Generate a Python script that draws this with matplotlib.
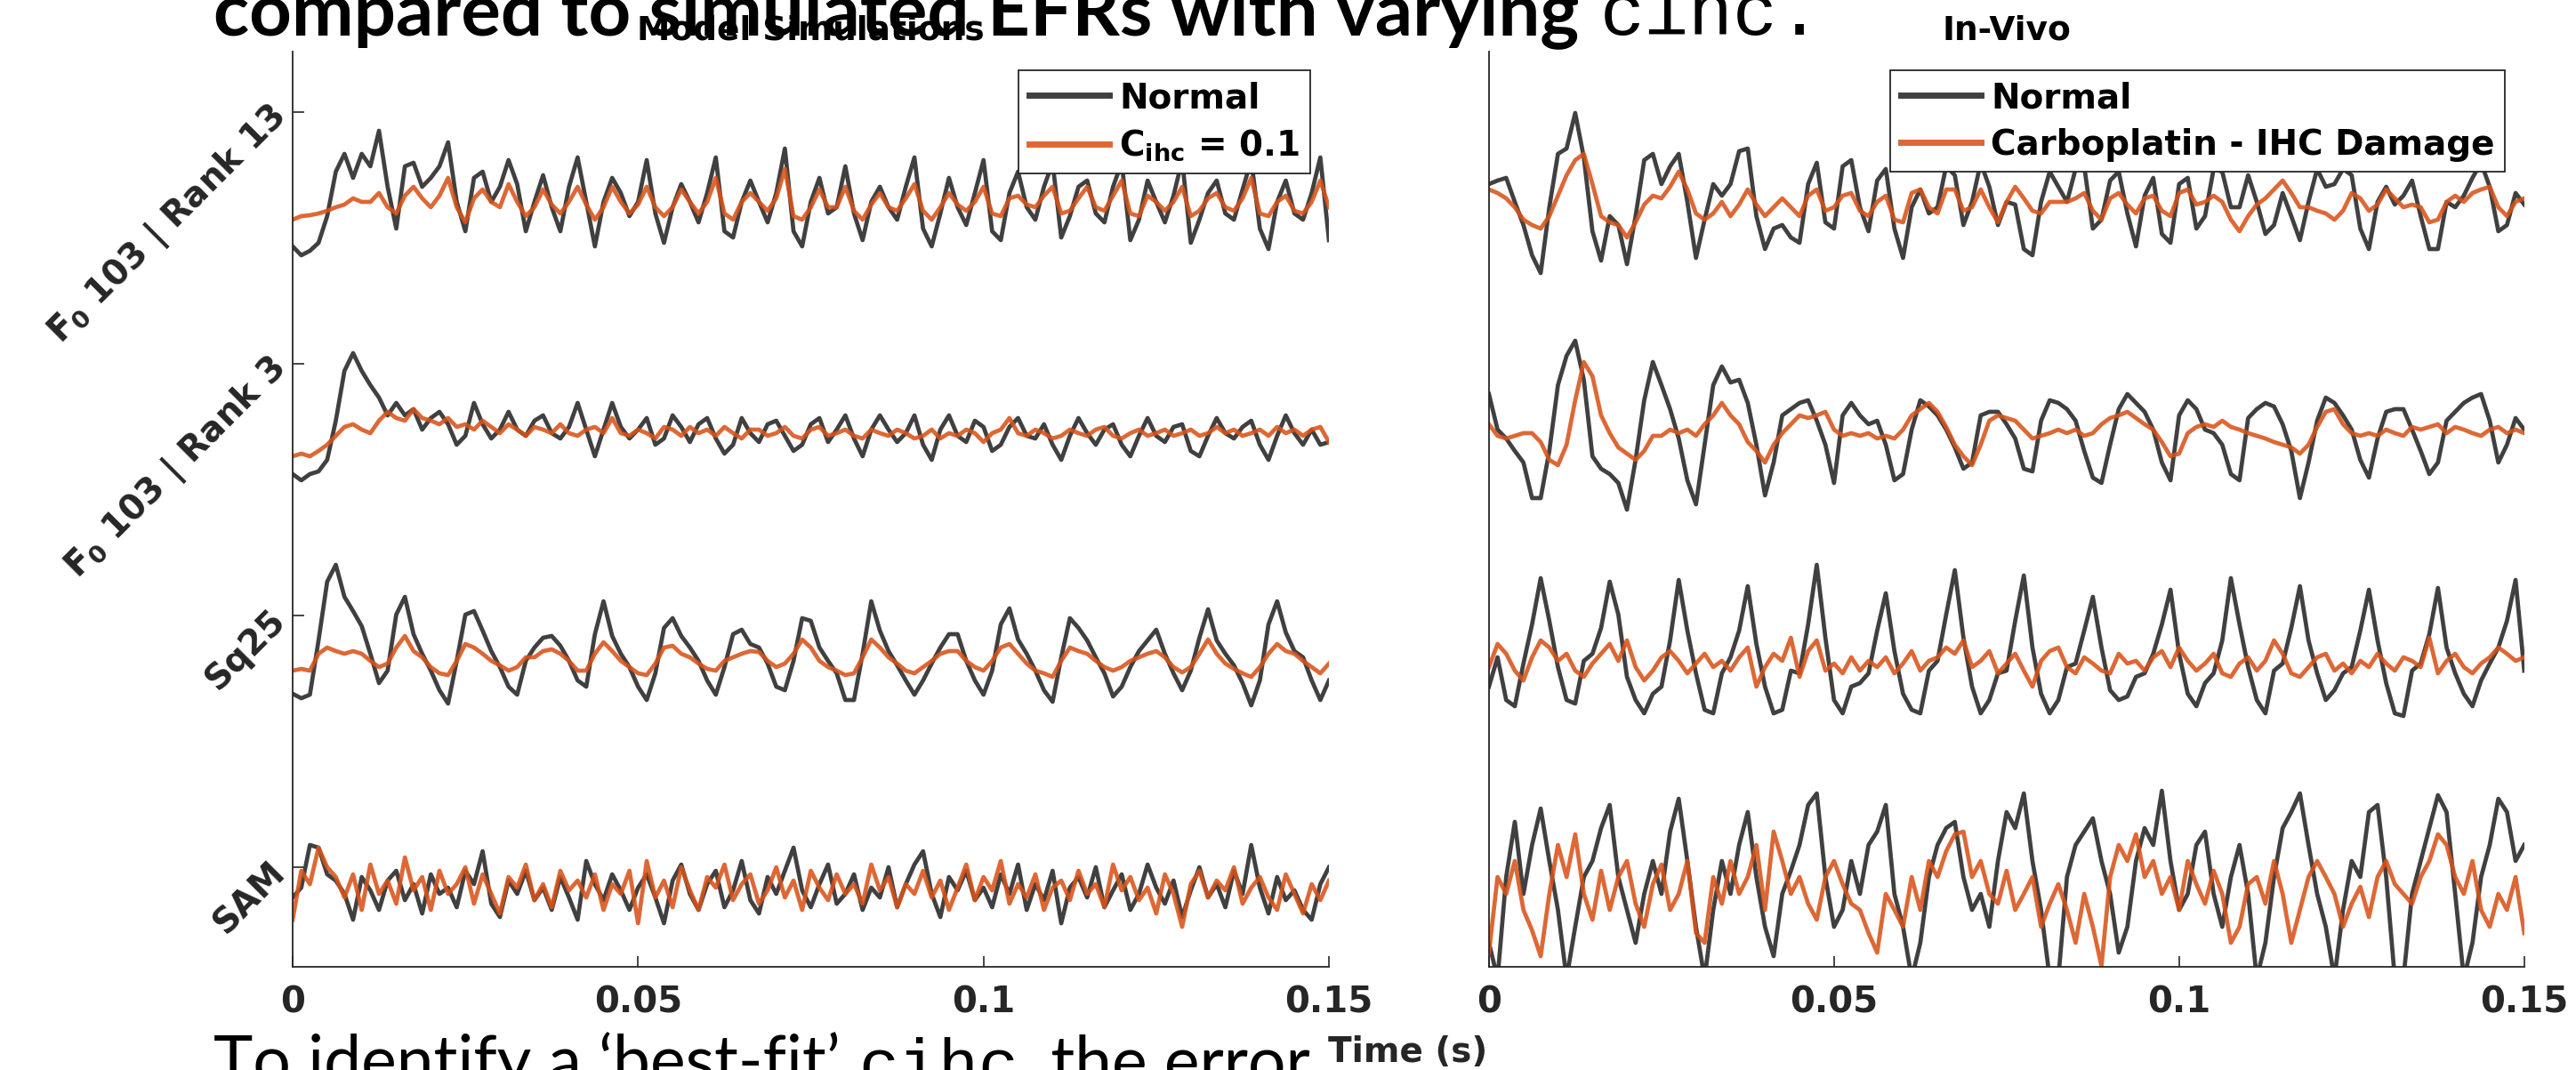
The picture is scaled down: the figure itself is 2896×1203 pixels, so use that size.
import numpy as np
import matplotlib
matplotlib.use("Agg")
import matplotlib.pyplot as plt

plt.rcParams["font.family"] = ["DejaVu Sans"]
plt.rcParams["mathtext.fontset"] = "dejavusans"
plt.rcParams["mathtext.default"] = "bf"

# ---- data: EFR waveforms (a.u., relative to each row's tick), 0..0.15 s ----
T_END = 0.15
row_labels = ["SAM", "Sq25", "F$_0$ 103 | Rank 3", "F$_0$ 103 | Rank 13"]
x_ticks = [0, 0.05, 0.1, 0.15]
x_tick_labels = ["0", "0.05", "0.1", "0.15"]

model_r13_normal = [
    -151, -161, -156, -147, -117, -67, -47, -74, -47, -61,
    -21, -84, -131, -61, -57, -84, -74, -61, -34, -101,
    -134, -74, -67, -101, -84, -54, -81, -134, -101, -71,
    -107, -134, -84, -51, -101, -151, -101, -74, -91, -117,
    -101, -54, -114, -147, -107, -81, -101, -124, -91, -51,
    -134, -141, -101, -77, -101, -124, -91, -41, -134, -151,
    -101, -74, -114, -107, -61, -114, -144, -101, -84, -107,
    -121, -84, -51, -131, -151, -114, -74, -107, -127, -91,
    -54, -134, -144, -91, -67, -107, -121, -84, -57, -141,
    -117, -84, -77, -114, -124, -84, -57, -144, -121, -77,
    -101, -124, -94, -54, -147, -121, -91, -77, -114, -121,
    -87, -54, -131, -154, -101, -77, -114, -121, -91, -51,
    -144]
model_r13_cihc = [
    -121, -117, -116, -114, -111, -107, -104, -97, -101, -101,
    -91, -107, -114, -94, -84, -97, -107, -94, -74, -107,
    -124, -97, -87, -101, -107, -81, -101, -117, -107, -87,
    -104, -114, -101, -84, -104, -121, -107, -84, -101, -114,
    -104, -84, -107, -117, -107, -87, -101, -114, -101, -74,
    -114, -121, -101, -91, -101, -111, -97, -64, -117, -121,
    -107, -87, -107, -107, -84, -111, -121, -104, -91, -107,
    -111, -97, -81, -111, -121, -107, -91, -104, -111, -101,
    -84, -114, -117, -97, -94, -104, -107, -94, -84, -114,
    -111, -97, -84, -107, -111, -94, -77, -114, -117, -94,
    -101, -111, -101, -84, -117, -111, -97, -91, -107, -111,
    -97, -74, -114, -117, -101, -94, -111, -114, -101, -77,
    -107]
model_r3_normal = [
    -124, -131, -124, -121, -108, -64, -8, 12, -8, -24,
    -38, -58, -44, -58, -51, -74, -61, -54, -68, -91,
    -81, -44, -68, -84, -74, -54, -74, -81, -64, -58,
    -78, -84, -71, -44, -74, -104, -74, -44, -71, -84,
    -74, -61, -91, -84, -58, -71, -88, -68, -61, -84,
    -101, -91, -61, -78, -88, -68, -64, -81, -98, -91,
    -68, -61, -88, -74, -58, -84, -104, -74, -58, -74,
    -88, -78, -58, -91, -108, -74, -58, -81, -88, -64,
    -71, -98, -91, -71, -61, -81, -84, -68, -91, -108,
    -81, -61, -78, -91, -74, -68, -91, -104, -81, -61,
    -81, -88, -71, -68, -98, -104, -81, -61, -78, -84,
    -71, -64, -91, -108, -81, -58, -78, -91, -74, -91,
    -88]
model_r3_cihc = [
    -104, -101, -104, -98, -91, -81, -71, -68, -74, -78,
    -64, -54, -61, -64, -51, -61, -64, -68, -61, -71,
    -68, -74, -64, -71, -78, -68, -74, -81, -71, -74,
    -78, -68, -78, -81, -74, -71, -78, -61, -78, -81,
    -74, -78, -84, -71, -74, -81, -71, -78, -74, -81,
    -71, -78, -84, -74, -74, -81, -78, -71, -81, -84,
    -74, -71, -81, -78, -74, -81, -84, -74, -78, -81,
    -74, -78, -84, -81, -74, -84, -78, -81, -74, -78,
    -88, -78, -74, -61, -78, -81, -74, -78, -84, -81,
    -74, -78, -81, -74, -71, -81, -84, -78, -74, -81,
    -78, -74, -81, -78, -74, -81, -78, -71, -78, -74,
    -81, -78, -74, -81, -71, -78, -74, -81, -74, -71,
    -88]
model_sq25_normal = [
    -88, -93, -89, -28, 38, 57, 21, 5, -12, -43,
    -76, -62, 1, 21, -21, -43, -62, -84, -99, -51,
    1, 5, -17, -40, -58, -80, -89, -51, -36, -25,
    -23, -34, -51, -73, -80, -21, 16, -23, -43, -58,
    -80, -95, -65, -14, -3, -23, -36, -51, -73, -89,
    -58, -21, -16, -32, -36, -54, -80, -84, -51, -3,
    -6, -36, -51, -65, -95, -95, -43, 16, -17, -40,
    -56, -73, -89, -73, -54, -36, -21, -21, -51, -73,
    -89, -62, -10, 8, -27, -43, -62, -84, -97, -47,
    -3, -14, -28, -47, -65, -91, -80, -58, -40, -28,
    -16, -43, -65, -84, -62, -25, 7, -28, -43, -56,
    -76, -101, -73, -10, 16, -19, -40, -47, -73, -95,
    -73]
model_sq25_cihc = [
    -62, -60, -62, -43, -36, -40, -43, -40, -43, -51,
    -58, -54, -36, -23, -40, -47, -58, -65, -67, -51,
    -32, -36, -43, -51, -56, -62, -58, -47, -47, -40,
    -38, -43, -51, -62, -62, -43, -30, -40, -51, -58,
    -65, -67, -54, -36, -34, -43, -47, -54, -60, -62,
    -51, -47, -43, -40, -41, -51, -58, -54, -43, -27,
    -36, -51, -58, -62, -67, -65, -47, -27, -36, -47,
    -54, -62, -65, -58, -51, -43, -40, -40, -51, -58,
    -62, -51, -36, -32, -43, -54, -62, -65, -69, -51,
    -36, -40, -43, -51, -58, -62, -58, -51, -47, -43,
    -40, -47, -58, -64, -58, -43, -27, -43, -54, -60,
    -65, -69, -58, -43, -32, -40, -43, -51, -58, -65,
    -54]
model_sam_normal = [
    -34, -23, 25, 22, -8, -15, -30, -59, -11, -26,
    -48, -15, -4, -37, -19, -52, -8, -30, -23, -45,
    -4, -19, 18, -41, -56, -15, -30, -4, -37, -23,
    -48, -11, -34, -59, 7, -19, -37, -8, -26, -48,
    -23, -8, -34, -63, -15, 3, -30, -48, -19, -4,
    -45, -26, 7, -37, -52, -11, -30, -4, 22, -26,
    -45, -19, 3, -41, -30, -8, -48, -23, -34, 0,
    -45, -19, 3, 18, -30, -56, -11, -26, -4, -37,
    -23, -45, -8, -30, 3, -48, -19, -37, -4, -63,
    -23, -11, -34, 0, -45, -26, -8, -48, -30, 3,
    -23, -41, -15, -56, -26, 0, -34, -19, -45, -4,
    -30, 25, -23, -52, -11, -37, -26, -48, -59, -19,
    0]
model_sam_cihc = [
    -59, -4, -19, 22, 0, -11, -34, -8, -48, 3,
    -30, -15, -41, 11, -26, -11, -48, -4, -30, -19,
    0, -41, -8, -30, -52, -11, -23, 3, -37, -19,
    -45, -4, -26, -15, -34, -8, -48, -19, -30, -4,
    -63, 7, -34, -15, -45, 0, -26, -48, -11, -23,
    3, -37, -19, -8, -41, -26, 0, -34, -15, -48,
    -4, -23, -37, -8, -30, -19, -41, 3, -26, -11,
    -45, -19, -30, -4, -34, -15, -48, -23, 3, -37,
    -11, -26, 7, -41, -19, -34, -8, -48, -23, -15,
    -37, -4, -30, -19, -45, 3, -26, -11, -37, -23,
    -52, -8, -30, -67, -19, -4, -34, -15, -26, 0,
    -41, -23, -11, -34, -48, -8, -30, -52, -19, -37,
    -15]

vivo_r13_normal = [
    -81, -77, -74, -101, -127, -161, -181, -107, -47, -41,
    -1, -51, -134, -167, -117, -127, -171, -117, -54, -47,
    -81, -61, -47, -101, -164, -121, -81, -94, -81, -44,
    -41, -117, -154, -131, -127, -141, -147, -81, -57, -124,
    -131, -61, -54, -107, -134, -77, -64, -131, -164, -107,
    -87, -114, -107, -61, -71, -127, -101, -57, -84, -127,
    -101, -104, -154, -161, -101, -67, -84, -101, -64, -61,
    -131, -121, -77, -67, -114, -151, -94, -74, -137, -147,
    -81, -74, -131, -117, -64, -67, -107, -107, -71, -101,
    -137, -127, -91, -117, -144, -101, -64, -84, -81, -64,
    -71, -131, -154, -101, -84, -104, -94, -77, -117, -154,
    -154, -101, -107, -94, -74, -57, -84, -134, -127, -91,
    -104]
vivo_r13_carbo = [
    -87, -91, -97, -107, -121, -127, -131, -117, -94, -71,
    -54, -47, -81, -117, -124, -127, -141, -124, -104, -94,
    -97, -84, -67, -87, -114, -121, -114, -101, -117, -104,
    -87, -104, -117, -107, -97, -107, -117, -94, -87, -111,
    -107, -94, -91, -111, -117, -101, -94, -121, -124, -91,
    -87, -107, -114, -87, -87, -111, -107, -87, -107, -124,
    -101, -84, -97, -111, -114, -101, -101, -101, -97, -91,
    -111, -121, -97, -91, -104, -114, -97, -94, -111, -117,
    -91, -87, -104, -101, -94, -101, -121, -134, -117, -104,
    -97, -87, -77, -91, -107, -107, -111, -114, -121, -111,
    -91, -97, -111, -104, -87, -97, -107, -104, -107, -124,
    -121, -101, -94, -101, -91, -87, -84, -107, -117, -101,
    -97]
vivo_r3_normal = [
    -34, -74, -84, -98, -111, -151, -151, -98, -24, 9,
    26, -18, -104, -118, -124, -134, -164, -108, -41, 2,
    -24, -51, -84, -131, -158, -91, -24, -3, -21, -18,
    -44, -91, -148, -111, -58, -51, -44, -41, -64, -91,
    -134, -58, -44, -58, -68, -64, -91, -131, -124, -74,
    -41, -48, -58, -74, -94, -118, -111, -58, -54, -54,
    -68, -84, -118, -121, -64, -41, -44, -51, -64, -98,
    -128, -134, -91, -51, -34, -44, -54, -74, -111, -131,
    -58, -41, -51, -74, -78, -91, -124, -131, -61, -51,
    -44, -48, -68, -98, -151, -111, -64, -38, -44, -58,
    -74, -108, -128, -84, -54, -51, -51, -74, -98, -124,
    -111, -64, -54, -44, -38, -34, -64, -111, -91, -61,
    -74]
vivo_r3_carbo = [
    -68, -81, -84, -81, -78, -78, -88, -108, -114, -91,
    -41, 2, -14, -58, -78, -94, -101, -108, -98, -81,
    -81, -74, -78, -74, -81, -68, -58, -44, -58, -68,
    -88, -98, -111, -91, -78, -68, -58, -61, -58, -54,
    -74, -81, -78, -81, -78, -84, -81, -84, -74, -58,
    -51, -44, -54, -71, -91, -104, -114, -91, -64, -58,
    -61, -64, -74, -84, -81, -78, -74, -78, -74, -81,
    -78, -68, -61, -58, -54, -61, -68, -74, -88, -104,
    -101, -78, -71, -68, -71, -64, -71, -74, -78, -81,
    -84, -88, -91, -94, -101, -91, -71, -54, -51, -68,
    -78, -81, -78, -81, -74, -78, -81, -71, -74, -71,
    -68, -78, -71, -74, -78, -81, -74, -71, -78, -74,
    -78]
vivo_sq25_normal = [
    -80, -47, -95, -102, -54, -10, 42, -6, -58, -95,
    -99, -51, -43, -14, 38, 1, -69, -95, -110, -88,
    -80, -28, 40, -17, -65, -106, -110, -65, -47, -17,
    33, -32, -80, -110, -106, -62, -65, -10, 57, -25,
    -95, -110, -80, -76, -65, -17, 25, -40, -88, -106,
    -110, -62, -51, 1, 51, -25, -80, -110, -95, -65,
    -62, -6, 45, -36, -88, -110, -95, -58, -54, -17,
    21, -36, -84, -95, -91, -69, -65, -43, -10, 29,
    -43, -88, -102, -76, -65, -28, 42, -10, -58, -95,
    -110, -62, -54, -14, 33, -28, -65, -95, -84, -65,
    -58, -17, 29, -28, -76, -110, -113, -62, -54, -21,
    31, -36, -65, -88, -102, -73, -54, -36, -6, 40,
    -62]
vivo_sq25_carbo = [
    -58, -32, -43, -62, -73, -47, -28, -36, -51, -43,
    -62, -69, -54, -43, -32, -51, -28, -58, -73, -62,
    -47, -40, -51, -65, -54, -43, -58, -51, -62, -47,
    -36, -80, -58, -43, -51, -25, -69, -40, -28, -62,
    -54, -65, -47, -62, -51, -58, -47, -65, -54, -40,
    -62, -51, -47, -36, -43, -28, -58, -51, -40, -65,
    -54, -43, -62, -80, -51, -40, -36, -58, -65, -47,
    -54, -62, -65, -43, -54, -51, -62, -47, -40, -58,
    -36, -51, -62, -54, -43, -65, -69, -54, -47, -62,
    -51, -28, -43, -65, -69, -58, -47, -43, -62, -54,
    -65, -51, -58, -43, -54, -62, -47, -51, -58, -25,
    -65, -51, -43, -58, -65, -54, -47, -36, -43, -51,
    -47]
vivo_sam_normal = [
    -85, -125, -11, 51, -30, 25, 66, 7, -48, -125,
    -67, -11, 7, 44, 70, -11, -48, -85, -30, 7,
    -30, 40, 77, 7, -67, -125, -48, 7, -30, 25,
    62, -11, -67, -100, -30, -4, 25, 70, 83, -11,
    -67, -48, 7, -30, 25, 40, 70, -30, -67, -125,
    -85, -11, 25, 44, 51, -11, -48, -30, -67, 7,
    62, 44, 83, 7, -48, -125, -125, -11, 25, 40,
    55, 7, -30, -96, -67, 7, 44, 25, 86, 7,
    -48, -30, 25, 40, -30, -67, -11, 25, -30, -125,
    -85, -11, 44, 62, 83, 25, -30, -67, -125, -48,
    7, -11, 62, 70, -11, -125, -125, -30, 7, 44,
    81, 62, -30, -125, -85, -11, 25, 77, 62, 7,
    25]
vivo_sam_carbo = [
    -96, -11, -30, 7, -48, -71, -100, -30, 25, -11,
    37, -30, -59, -4, -48, -11, 7, -41, -67, -19,
    3, -48, -30, 7, -74, -85, -11, -41, 7, -30,
    -11, 25, -48, 40, 7, -30, -11, -41, -59, -11,
    7, -19, -41, -48, -74, -96, -30, -48, -67, -11,
    -48, 7, -11, 18, 37, 40, -11, 7, -30, -41,
    -4, -48, -30, -11, -67, -41, -19, -48, -85, -30,
    -67, -111, -11, 25, 7, 37, -11, 7, -30, -11,
    -48, 7, -19, -41, -4, -30, -85, -67, -19, -11,
    -41, 7, -30, -85, -48, -11, 7, -11, -30, -67,
    -41, -22, -56, -11, 7, -19, -30, -41, -11, 7,
    37, 25, -11, -30, 7, -48, -67, -30, -48, -11,
    -74]

# ---- layout / style ----
ROW_GAP = 283
row_offsets = [0, ROW_GAP, 2 * ROW_GAP, 3 * ROW_GAP]
Y_LIM = (-112, 917)
DARK = "#404040"
ORANGE = "#D95319"
AXC = "#262626"
FS = 28

model_rows = [(model_sam_normal, model_sam_cihc),
              (model_sq25_normal, model_sq25_cihc),
              (model_r3_normal, model_r3_cihc),
              (model_r13_normal, model_r13_cihc)]
vivo_rows = [(vivo_sam_normal, vivo_sam_carbo),
             (vivo_sq25_normal, vivo_sq25_carbo),
             (vivo_r3_normal, vivo_r3_carbo),
             (vivo_r13_normal, vivo_r13_carbo)]

fig = plt.figure(figsize=(28.96, 12.03), dpi=100)
ax_l = fig.add_axes([0.1136, 0.0964, 0.4023, 0.8554])
ax_r = fig.add_axes([0.5780, 0.0964, 0.4019, 0.8554])


def draw_panel(ax, rows, title, damaged_label):
    for off, (normal, damaged) in zip(row_offsets, rows):
        t = np.linspace(0, T_END, len(normal))
        ax.plot(t, np.asarray(normal) + off, color=DARK, lw=3.4, label="Normal")
        t = np.linspace(0, T_END, len(damaged))
        ax.plot(t, np.asarray(damaged) + off, color=ORANGE, lw=3.4, alpha=0.88,
                label=damaged_label)
    ax.set_xlim(0, T_END)
    ax.set_ylim(*Y_LIM)
    for s in ("top", "right"):
        ax.spines[s].set_visible(False)
    for s in ("left", "bottom"):
        ax.spines[s].set_color(AXC)
        ax.spines[s].set_linewidth(1.3)
    ax.set_xticks(x_ticks)
    ax.set_xticklabels(x_tick_labels)
    ax.tick_params(axis="x", direction="in", length=9, width=1.2, colors=AXC,
                   pad=15, labelsize=29)
    for lab in ax.get_xticklabels():
        lab.set_fontweight("bold")
    ax.set_title(title, fontsize=27, fontweight="bold", pad=10)
    h, l = ax.get_legend_handles_labels()
    leg = ax.legend(h[:2], l[:2], loc="upper right",
                    prop={"weight": "bold", "size": FS},
                    frameon=True, fancybox=False, framealpha=1,
                    edgecolor=AXC, borderaxespad=0.55, handlelength=2.3,
                    handletextpad=0.3, borderpad=0.3, labelspacing=0.38)
    leg.get_frame().set_linewidth(1.3)
    for line in leg.get_lines():
        line.set_linewidth(5)


draw_panel(ax_l, model_rows, "Model Simulations", r"C$_{ihc}$ = 0.1")
draw_panel(ax_r, vivo_rows, "In-Vivo", "Carboplatin - IHC Damage")

ax_l.set_yticks(row_offsets)
ax_l.set_yticklabels(row_labels, rotation=45, ha="right", va="center",
                     rotation_mode="anchor", fontweight="bold")
ax_l.tick_params(axis="y", direction="in", length=9, width=1.2, colors=AXC,
                 pad=10, labelsize=FS)
ax_r.tick_params(axis="y", left=False, labelleft=False)

fig.text(0.5466, 0.0166, "Time (s)", fontsize=FS, fontweight="bold",
         color=AXC, ha="center", va="center")

# slide text around the figure (cut off by the frame), kept behind the axes
renderer = fig.canvas.get_renderer()
y_top = 1 - 39 / 1203
top = fig.text(240 / 2896, y_top, "compared to simulated EFRs with varying",
               family=["Lato", "DejaVu Sans"], fontweight="bold", fontsize=60,
               va="baseline", ha="left", zorder=-1)
bb = top.get_window_extent(renderer)
fig.text(bb.x1 / fig.bbox.width + 0.008, y_top, "cihc.",
         family=["Liberation Mono"], fontsize=60, va="baseline", ha="left",
         zorder=-1)

y_bot = -16 / 1203
bot = fig.text(240 / 2896, y_bot, "To identify a \u2018best-fit\u2019",
               family=["Lato", "DejaVu Sans"], fontsize=54, va="baseline",
               ha="left", zorder=-1)
bb = bot.get_window_extent(renderer)
mono = fig.text(bb.x1 / fig.bbox.width + 0.007, y_bot, "cihc",
                family=["Liberation Mono"], fontsize=54, va="baseline",
                ha="left", zorder=-1)
bb = mono.get_window_extent(renderer)
fig.text(bb.x1 / fig.bbox.width, y_bot, ", the error",
         family=["Lato", "DejaVu Sans"], fontsize=54, va="baseline", ha="left",
         zorder=-1)

fig.savefig("out.png", dpi=100)
